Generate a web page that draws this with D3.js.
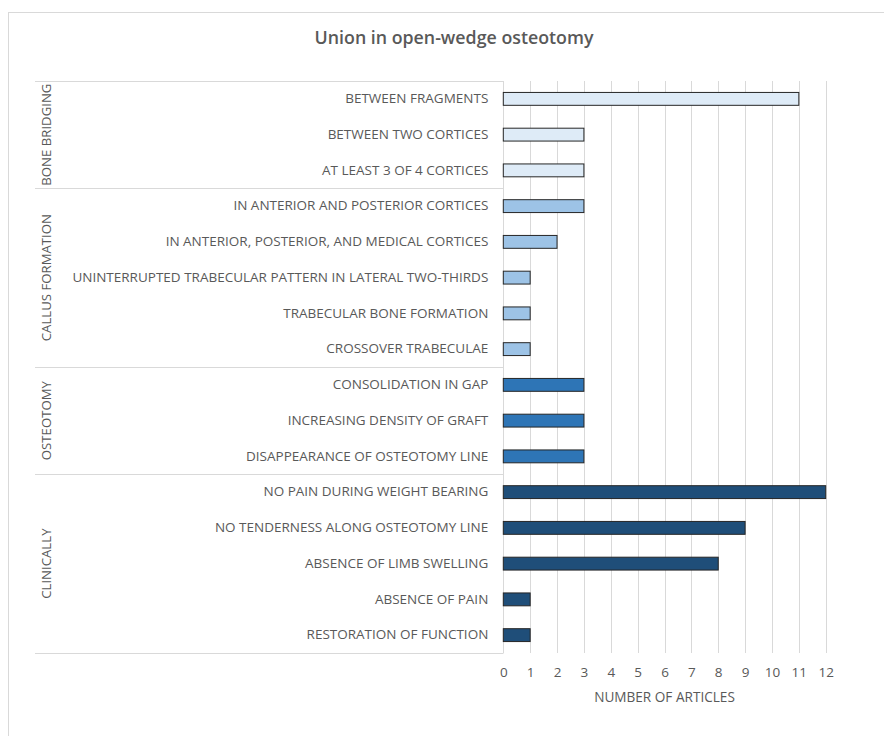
<!DOCTYPE html>
<html>
<head>
<meta charset="utf-8">
<script src="https://cdn.jsdelivr.net/npm/d3@7"></script>
<style>
  body { margin: 0; background: #fff; }
  svg { display: block; font-family: "Open Sans", sans-serif; }
</style>
</head>
<body>
<svg id="chart" width="884" height="736"></svg>
<script>
const groups = ["BONE BRIDGING", "CALLUS FORMATION", "OSTEOTOMY", "CLINICALLY"];
const groupColors = ["#deebf7", "#9dc3e6", "#2e75b6", "#1f4e79"];
const categories = [
  "BETWEEN FRAGMENTS",
  "BETWEEN TWO CORTICES",
  "AT LEAST 3 OF 4 CORTICES",
  "IN ANTERIOR AND POSTERIOR CORTICES",
  "IN ANTERIOR, POSTERIOR, AND MEDICAL CORTICES",
  "UNINTERRUPTED TRABECULAR PATTERN IN LATERAL TWO-THIRDS",
  "TRABECULAR BONE FORMATION",
  "CROSSOVER TRABECULAE",
  "CONSOLIDATION IN GAP",
  "INCREASING DENSITY OF GRAFT",
  "DISAPPEARANCE OF OSTEOTOMY LINE",
  "NO PAIN DURING WEIGHT BEARING",
  "NO TENDERNESS ALONG OSTEOTOMY LINE",
  "ABSENCE OF LIMB SWELLING",
  "ABSENCE OF PAIN",
  "RESTORATION OF FUNCTION"
];
const categoryGroup = [0,0,0, 1,1,1,1,1, 2,2,2, 3,3,3,3,3];
const values = [11,3,3, 3,2,1,1,1, 3,3,3, 12,9,8,1,1];
const xTicks = [0,1,2,3,4,5,6,7,8,9,10,11,12];
const title = "Union in open-wedge osteotomy";
const xTitle = "NUMBER OF ARTICLES";

const svg = d3.select("#chart");
const textColor = "#595959";
const gridColor = "#d9d9d9";

// outer frame
svg.append("rect").attr("x", 8.5).attr("y", 12.5).attr("width", 900).attr("height", 800)
  .attr("fill", "none").attr("stroke", "#d9d9d9").attr("stroke-width", 1);

const plotLeft = 503.3, plotRight = 825.7, plotTop = 81, plotBottom = 653;
const labelLeft = 35;

const x = d3.scaleLinear().domain([0, 12]).range([plotLeft, plotRight]);
const y = d3.scaleBand().domain(categories).range([plotTop, plotBottom]).paddingInner(0.64).paddingOuter(0.32);

// title
svg.append("text").attr("x", 454).attr("y", 44).attr("text-anchor", "middle")
  .attr("font-size", 17.8).attr("font-weight", 600).attr("fill", textColor).text(title);

// gridlines
svg.append("g").selectAll("line").data(xTicks).join("line")
  .attr("x1", d => Math.round(x(d)) + 0.5).attr("x2", d => Math.round(x(d)) + 0.5)
  .attr("y1", plotTop).attr("y2", plotBottom)
  .attr("stroke", gridColor).attr("stroke-width", 1);

// group boundaries
const groupBounds = groups.map((g, gi) => {
  const idx = categoryGroup.map((c, i) => c === gi ? i : -1).filter(i => i >= 0);
  const first = categories[idx[0]], last = categories[idx[idx.length - 1]];
  const gap = (y.step() - y.bandwidth()) / 2;
  return {g, top: y(first) - gap, bottom: y(last) + y.bandwidth() + gap};
});
const bounds = [plotTop];
groupBounds.forEach(b => bounds.push(b.bottom));
svg.append("g").selectAll("line").data(bounds).join("line")
  .attr("x1", labelLeft).attr("x2", Math.round(plotLeft) + 0.5)
  .attr("y1", d => Math.round(d) + 0.5).attr("y2", d => Math.round(d) + 0.5)
  .attr("stroke", gridColor).attr("stroke-width", 1);

// group labels
svg.append("g").selectAll("text").data(groupBounds).join("text")
  .attr("transform", d => `translate(51,${(d.top + d.bottom) / 2}) rotate(-90)`)
  .attr("text-anchor", "middle").attr("font-size", 13.2).attr("fill", textColor)
  .text(d => d.g);

// bars
svg.append("g").selectAll("rect").data(categories).join("rect")
  .attr("x", x(0))
  .attr("y", d => y(d))
  .attr("width", (d, i) => x(values[i]) - x(0))
  .attr("height", y.bandwidth())
  .attr("fill", (d, i) => groupColors[categoryGroup[i]])
  .attr("stroke", "#262626").attr("stroke-width", 1);

// category labels via axis
const yAxis = d3.axisLeft(y).tickSize(0).tickPadding(15);
const ya = svg.append("g").attr("transform", `translate(${plotLeft},0)`).call(yAxis);
ya.select(".domain").remove();
ya.selectAll("text").attr("font-size", 13.5).attr("fill", textColor).attr("font-family", "Open Sans, sans-serif");

// x axis
const xAxis = d3.axisBottom(x).tickValues(xTicks).tickSize(0).tickPadding(14).tickFormat(d3.format("d"));
const xa = svg.append("g").attr("transform", `translate(0,${plotBottom})`).call(xAxis);
xa.select(".domain").remove();
xa.selectAll("text").attr("font-size", 13.5).attr("fill", textColor).attr("font-family", "Open Sans, sans-serif");

svg.append("text").attr("x", (plotLeft + plotRight) / 2).attr("y", 702).attr("text-anchor", "middle")
  .attr("font-size", 13.6).attr("fill", textColor).text(xTitle);
</script>
</body>
</html>
